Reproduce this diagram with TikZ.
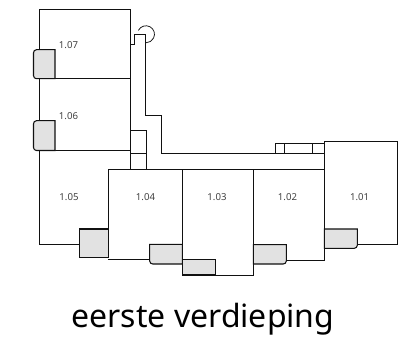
\documentclass[tikz,border=0pt]{standalone}
\usepackage{fontspec}
\setmainfont{Noto Sans}
\definecolor{bal}{HTML}{E2E2E2}
\definecolor{ink}{HTML}{111111}
\begin{document}
\begin{tikzpicture}[x=1pt,y=-1pt,
  wall/.style={draw=ink,line width=0.75pt},
  balc/.style={draw=ink,line width=1.05pt,fill=bal,rounded corners=0pt},
  room/.style={font=\fontsize{9.6}{11}\selectfont,text=ink!80,inner sep=0pt},
  title/.style={font=\fontsize{32}{36}\selectfont,text=black,inner sep=0pt,anchor=base}]
\useasboundingbox (0,0) rectangle (405,351);
% walls
\draw[wall] (39.5,150.5) -- (39.5,9.5) -- (130.5,9.5) -- (130.5,169);
\draw[wall] (39.5,78.7) -- (130.5,78.7);
\draw[wall] (39.5,150.5) -- (130.5,150.5);
\draw[wall] (39.5,150.5) -- (39.5,244.7) -- (79.3,244.7);
\draw[wall] (130.5,44) -- (134.3,44) -- (134.3,34.3) -- (145.7,34.3) -- (145.7,115.7) -- (161.3,115.7) -- (161.3,153.5) -- (324.3,153.5);
\draw[wall] (138.4,30.4) arc[start angle=207,end angle=450,radius=8.5];
\draw[wall] (130.5,130.3) -- (146.3,130.3) -- (146.3,169);
\draw[wall] (130.5,153.3) -- (146.3,153.3);
\draw[wall] (108.3,229) -- (108.3,169) -- (324.3,169);
\draw[wall] (108.3,259.7) -- (149.7,259.7);
\draw[wall] (182.3,169) -- (182.3,259.7);
\draw[wall] (215.3,275) -- (253.3,275) -- (253.3,169);
\draw[wall] (286.3,260) -- (324.3,260) -- (324.3,141.7) -- (397.7,141.7) -- (397.7,244.7) -- (357.3,244.7);
\draw[wall] (275,153.5) -- (275,143.3) -- (324.3,143.3);
\draw[wall] (284.3,143.3) -- (284.3,153.5);
\draw[wall] (312.3,143.3) -- (312.3,153.5);
% balconies
\draw[balc] (55,49.7) -- (37,49.7) [rounded corners=3pt] -- (33.5,49.7) -- (33.5,78.7) [rounded corners=0pt] -- (55,78.7) -- cycle;
\draw[balc] (55,120.7) -- (37,120.7) [rounded corners=3pt] -- (33.5,120.7) -- (33.5,150.5) [rounded corners=0pt] -- (55,150.5) -- cycle;
\draw[balc] (79.3,229) rectangle (108.3,257.3);
\draw[balc] (182.3,244.3) -- (149.7,244.3) [rounded corners=3pt] -- (149.7,264) [rounded corners=0pt] -- (182.3,264) -- cycle;
\draw[balc] (182.3,259.7) rectangle (215.3,275);
\draw[balc] (253.3,244.7) -- (286.3,244.7) [rounded corners=3pt] -- (286.3,264) [rounded corners=0pt] -- (253.3,264) -- cycle;
\draw[balc] (324.3,229) -- (357.3,229) [rounded corners=3pt] -- (357.3,248.3) [rounded corners=0pt] -- (324.3,248.3) -- cycle;
% labels
\node[room] (r107) at (68.5,45.5) {1.07};
\node[room] (r106) at (68.5,116.5) {1.06};
\node[room] (r105) at (69,197) {1.05};
\node[room] (r104) at (145.5,197) {1.04};
\node[room] (r103) at (217,197) {1.03};
\node[room] (r102) at (287.5,197) {1.02};
\node[room] (r101) at (359.7,197) {1.01};
\node[title] (cap) at (203,327.5) {eerste verdieping};
\end{tikzpicture}
\end{document}
